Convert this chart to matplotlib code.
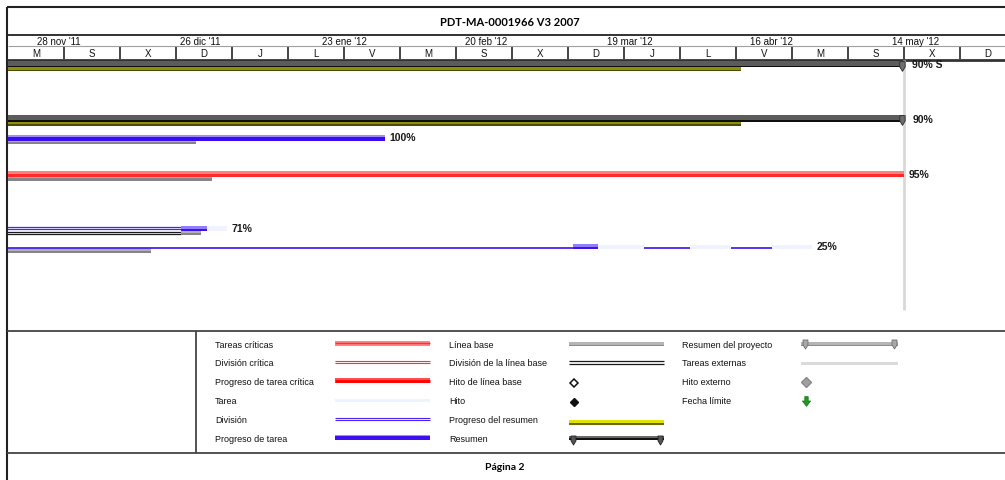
import matplotlib
matplotlib.use('Agg')
import matplotlib.pyplot as plt
import matplotlib.dates as mdates
from matplotlib.path import Path
from datetime import date, timedelta

plt.rcParams['font.family'] = ['Liberation Sans', 'DejaVu Sans']

TITULO = 'PDT-MA-0001966 V3 2007'
PIE = 'Página 2'

FILAS = [0, 3, 4, 6, 9, 10]
TIPOS = ['resumen', 'resumen', 'tarea', 'critica', 'dividida', 'dividida']
INICIO = '2011-11-15'   # todas empiezan antes de la ventana visible
FIN = ['2012-05-16', '2012-05-16', '2012-02-04', '2012-05-16', '2012-01-04', '2012-04-28']
FIN_PROGRESO = ['2012-04-14', '2012-04-14', '2012-02-04', '2012-05-16', None, None]
FIN_LINEA_BASE = [None, None, '2011-12-29', '2012-01-01', '2011-12-30', '2011-12-20']
FIN_DIVISION_BASE = [None, None, None, None, '2011-12-26', None]
PORCENTAJES = ['90% S', '90%', '100%', '95%', '71%', '25%']

# tramos de las tareas divididas: (fila, desde, hasta, clase)
TRAMOS = [
    (9, '2011-11-15', '2011-12-26', 'division'),
    (9, '2011-12-26', '2011-12-31', 'progreso'),
    (9, '2011-12-31', '2012-01-04', 'tarea'),
    (10, '2011-11-15', '2012-03-12', 'hilo'),
    (10, '2012-03-12', '2012-03-17', 'progreso'),
    (10, '2012-03-17', '2012-03-26', 'tarea'),
    (10, '2012-03-26', '2012-04-04', 'hilo'),
    (10, '2012-04-04', '2012-04-12', 'tarea'),
    (10, '2012-04-12', '2012-04-20', 'hilo'),
    (10, '2012-04-20', '2012-04-28', 'tarea'),
]
FECHA_ESTADO = '2012-05-16'

# escala temporal
INICIO_ESCALA = date(2011, 11, 22)
PASO_MENOR = 11
INICIO_MAYOR = date(2011, 11, 28)
PASO_MAYOR = 28
MESES = ['ene', 'feb', 'mar', 'abr', 'may', 'jun', 'jul', 'ago', 'sep', 'oct', 'nov', 'dic']
DIAS = ['L', 'M', 'X', 'J', 'V', 'S', 'D']

LEYENDA_1 = ['Tareas críticas', 'División crítica', 'Progreso de tarea crítica',
             'Tarea', 'División', 'Progreso de tarea']
LEYENDA_2 = ['Línea base', 'División de la línea base', 'Hito de línea base',
             'Hito', 'Progreso del resumen', 'Resumen']
LEYENDA_3 = ['Resumen del proyecto', 'Tareas externas', 'Hito externo', 'Fecha límite']

# --- geometría ---
W, H = 1005, 480
PX_DIA = 5.09
ALTO_FILA = 18.2
FILA0_PX = 58
TXT = '#111111'

fig = plt.figure(figsize=(W / 100, H / 100), dpi=100)


def rect_px(x0, y0, x1, y1):
    return [x0 / W, 1 - y1 / H, (x1 - x0) / W, (y1 - y0) / H]


def n(s):
    return mdates.datestr2num(s)


TAPA = Path([(-0.55, 1), (0.55, 1), (0.55, -0.1), (0, -1), (-0.55, -0.1), (-0.55, 1)], closed=True)
FLECHA = Path([(-0.35, 1), (0.35, 1), (0.35, 0.1), (0.85, 0.1), (0, -1), (-0.85, 0.1),
               (-0.35, 0.1), (-0.35, 1)], closed=True)

# fondo: marco de la página, título y leyenda
bg = fig.add_axes([0, 0, 1, 1])
bg.set_xlim(0, W)
bg.set_ylim(H, 0)
bg.axis('off')
bg.hlines(7, 7, W, color='#222222', lw=1.5)
bg.vlines(7, 7, H, color='#222222', lw=1.5)
bg.hlines(35, 7, W, color='#222222', lw=1.3)
bg.hlines(46, 8, W, color='#a0a0a0', lw=0.8)
bg.hlines(60, 7, W, color='#333333', lw=2)
bg.hlines(331, 7, W, color='#444444', lw=1.3)
bg.hlines(453, 7, W, color='#444444', lw=1.3)
bg.vlines(196, 331, 453, color='#444444', lw=1.3)
bg.text(510, 22, TITULO, ha='center', va='center', fontsize=8, fontweight='bold', family='Lato')
bg.text(505, 467, PIE, ha='center', va='center', fontsize=7.5, fontweight='bold', family='Lato')

ys = [345 + 18.9 * i for i in range(6)]
for lab, y in zip(LEYENDA_1, ys):
    bg.text(215, y, lab, ha='left', va='center', fontsize=6.5, color=TXT)
for lab, y in zip(LEYENDA_2, ys):
    bg.text(449, y, lab, ha='left', va='center', fontsize=6.5, color=TXT)
for lab, y in zip(LEYENDA_3, ys):
    bg.text(682, y, lab, ha='left', va='center', fontsize=6.5, color=TXT)


def caja(x0, x1, y0, y1, c):
    bg.fill_between([x0, x1], y0, y1, color=c, lw=0)


# columna 1
caja(335, 430, ys[0] - 4.5, ys[0] + 0.5, '#ff8585')
bg.hlines(ys[0] - 1.8, 335, 430, color='#ff3030', lw=1)
bg.hlines([ys[1] - 3, ys[1] - 0.5], 335, 430, color='#ff3030', lw=0.8)
caja(335, 430, ys[2] - 4.5, ys[2] + 0.5, '#ff5050')
bg.hlines(ys[2] - 2, 335, 430, color='#ff0000', lw=2)
caja(335, 430, ys[3] - 2.5, ys[3] + 0.5, '#eef4ff')
bg.hlines([ys[4] - 3, ys[4] - 0.5], 335, 430, color='#4a22f2', lw=0.8)
caja(335, 430, ys[5] - 5, ys[5] + 0.5, '#3c10f0')
caja(335, 430, ys[5] - 5, ys[5] - 3.2, '#9b8cff')
# columna 2
caja(569, 664, ys[0] - 3.5, ys[0] - 0.5, '#b5b5b5')
caja(569, 664, ys[0] - 0.5, ys[0] + 1.2, '#8a8a8a')
bg.hlines([ys[1] - 2.5, ys[1] + 0.3], 569, 664, color='#1a1a1a', lw=0.9)
bg.plot(574, ys[2], marker='D', ms=4.5, mfc='white', mec='#111111', mew=1.1)
bg.plot(574, ys[3], marker='D', ms=4.5, mfc='#111111', mec='#111111')
caja(569, 664, ys[4] - 0.5, ys[4] + 2.5, '#e2e200')
caja(569, 664, ys[4] + 2.5, ys[4] + 4.2, '#6a6a00')
caja(569, 664, ys[5] - 4, ys[5] - 1.5, '#6a6a6a')
caja(569, 664, ys[5] - 1.5, ys[5] + 0.8, '#111111')
bg.plot([573, 660], [ys[5] + 0.5] * 2, ls='none', marker=TAPA, ms=6.5, mfc='#555555', mec='#222222', mew=0.6)
# columna 3
caja(801, 898, ys[0] - 3.5, ys[0] - 0.5, '#b5b5b5')
caja(801, 898, ys[0] - 0.5, ys[0] + 0.5, '#8f8f8f')
bg.plot([805, 894], [ys[0] - 1] * 2, ls='none', marker=TAPA, ms=6.5, mfc='#a8a8a8', mec='#6e6e6e', mew=0.6)
caja(801, 898, ys[1] - 2, ys[1] + 1.5, '#dadada')
bg.plot(806, ys[2] - 0.5, marker='D', ms=5, mfc='#a0a0a0', mec='#8a8a8a')
bg.plot(806, ys[3] - 0.5, marker=FLECHA, ms=7, mfc='#1a9e1a', mec='#127012', mew=0.5)

# área del diagrama
ax = fig.add_axes(rect_px(8, 60, W, 330))
x_ini = mdates.date2num(INICIO_ESCALA)
x_fin = x_ini + (W - 8) / PX_DIA
ax.set_xlim(x_ini, x_fin)
ax.set_ylim((330 - FILA0_PX) / ALTO_FILA, (60 - FILA0_PX) / ALTO_FILA)
ax.axis('off')


def franja(fila, a, b, top, bot, color, z=2):
    ax.broken_barh([(a, b - a)], (fila + top / ALTO_FILA, (bot - top) / ALTO_FILA),
                   facecolors=color, edgecolors='none', zorder=z)


def yf(fila, px):
    return fila + px / ALTO_FILA


ax.vlines(n(FECHA_ESTADO), yf(0, 2), (310 - FILA0_PX) / ALTO_FILA, color='#d8d8d8', lw=2, zorder=1)

ini = n(INICIO)
for fila, tipo, fin, fprog, fbase, fdiv, pct in zip(FILAS, TIPOS, FIN, FIN_PROGRESO,
                                                  FIN_LINEA_BASE, FIN_DIVISION_BASE, PORCENTAJES):
    f = n(fin)
    # línea base
    if fbase:
        if fdiv:
            ax.hlines([yf(fila, 10.3), yf(fila, 12.3)], ini, n(fdiv), color='#1a1a1a', lw=0.9, zorder=2)
            franja(fila, n(fdiv), n(fbase), 7.8, 10.8, '#b0b0b0')
            franja(fila, n(fdiv), n(fbase), 10.8, 13.2, '#858585')
        else:
            franja(fila, ini, n(fbase), 8.3, 11.0, '#b0b0b0')
            franja(fila, ini, n(fbase), 11.0, 13.4, '#858585')
    if tipo == 'resumen':
        franja(fila, ini, f, 2.6, 7.5, '#5c5c5c', 3)
        franja(fila, ini, f, 7.5, 9.0, '#0e0e0e', 3)
        franja(fila, ini, n(fprog), 9.2, 11.5, '#8e8e10', 3)
        franja(fila, ini, n(fprog), 11.5, 13.0, '#4d4d00', 3)
        ax.plot(f - 1.5 / PX_DIA, yf(fila, 7.5), marker=TAPA, ms=7, mfc='#6e6e6e',
                mec='#2a2a2a', mew=0.6, zorder=4)
        off = 6
    elif tipo == 'tarea':
        franja(fila, ini, n(fprog), 4.0, 10.0, '#3c0cf0', 3)
        franja(fila, ini, n(fprog), 4.0, 6.0, '#9b8cff', 3)
        off = 3.5
    elif tipo == 'critica':
        franja(fila, ini, f, 3.5, 9.5, '#ff7f7f', 3)
        franja(fila, ini, n(fprog), 6.8, 9.5, '#ff2b2b', 3)
        off = 3.5
    else:
        for fl, a, b, clase in TRAMOS:
            if fl != fila:
                continue
            if clase == 'division':
                ax.hlines([yf(fila, 5.0), yf(fila, 7.6)], n(a), n(b), color='#4a22f2', lw=0.9, zorder=3)
            elif clase == 'hilo':
                ax.hlines(yf(fila, 7.6), n(a), n(b), color='#4a22f2', lw=1.3, zorder=3)
            elif clase == 'progreso':
                franja(fila, n(a), n(b), 3.8, 9.2, '#4010f0', 3)
                franja(fila, n(a), n(b), 3.8, 7.0, '#8f7fff', 3)
            else:
                franja(fila, n(a), n(b), 4.5, 9.0, '#eef3ff', 3)
        off = 3.5
    ax.annotate(pct, xy=(f, yf(fila, 7.5)), xytext=(off, 0), textcoords='offset points',
                ha='left', va='center', fontsize=7.5, fontweight='bold', color='#1a1a1a',
                annotation_clip=False)

# escala temporal (dos niveles)
axh = fig.add_axes(rect_px(8, 35, W, 60))
axh.set_xlim(x_ini, x_fin)
axh.set_ylim(25, 0)
axh.axis('off')
k = 0
while True:
    d = INICIO_ESCALA + timedelta(days=PASO_MENOR * k)
    xd = mdates.date2num(d)
    if xd > x_fin:
        break
    if k > 0:
        axh.vlines(xd, 12, 24, color='#444444', lw=1.4)
    axh.text(xd + PASO_MENOR / 2, 19, DIAS[d.weekday()], ha='center', va='center',
             fontsize=7, color=TXT)
    k += 1
k = 0
while True:
    d = INICIO_MAYOR + timedelta(days=PASO_MAYOR * k)
    xd = mdates.date2num(d)
    if xd > x_fin:
        break
    axh.text(xd - 0.3, 7, f"{d.day} {MESES[d.month - 1]} '{d.year % 100:02d}", ha='left',
             va='center', fontsize=7, color=TXT)
    k += 1

fig.savefig('out.png', dpi=100)
